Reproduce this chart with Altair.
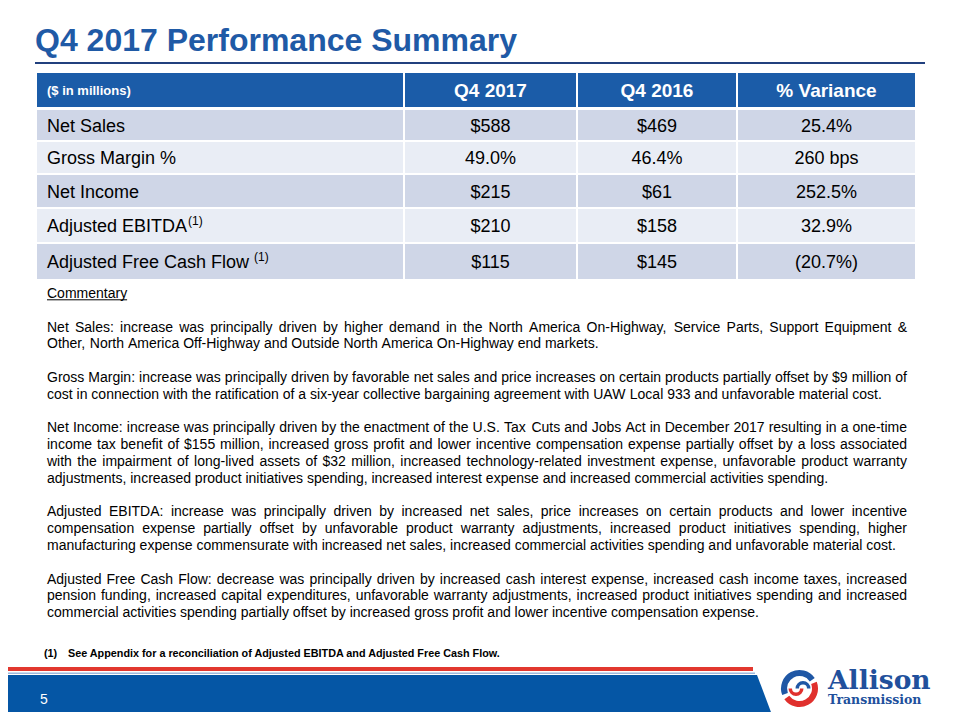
import altair as alt
import pandas as pd

# ---------------- data ----------------
title = "Q4 2017 Performance Summary"
headers = ["($ in millions)", "Q4 2017", "Q4 2016", "% Variance"]
metrics = ["Net Sales", "Gross Margin %", "Net Income", "Adjusted EBITDA", "Adjusted Free Cash Flow"]
metric_notes = ["", "", "", "(1)", "(1)"]
q4_2017 = ["$588", "49.0%", "$215", "$210", "$115"]
q4_2016 = ["$469", "46.4%", "$61", "$158", "$145"]
variance = ["25.4%", "260 bps", "252.5%", "32.9%", "(20.7%)"]

commentary_heading = "Commentary"
commentary = [
    ["Net Sales: increase was principally driven by higher demand in the North America On-Highway, Service Parts, Support Equipment &",
     "Other, North America Off-Highway and Outside North America On-Highway end markets."],
    ["Gross Margin: increase was principally driven by favorable net sales and price increases on certain products partially offset by $9 million of",
     "cost in connection with the ratification of a six-year collective bargaining agreement with UAW Local 933 and unfavorable material cost."],
    ["Net Income: increase was principally driven by the enactment of the U.S. Tax Cuts and Jobs Act in December 2017 resulting in a one-time",
     "income tax benefit of $155 million, increased gross profit and lower incentive compensation expense partially offset by a loss associated",
     "with the impairment of long-lived assets of $32 million, increased technology-related investment expense, unfavorable product warranty",
     "adjustments, increased product initiatives spending, increased interest expense and increased commercial activities spending."],
    ["Adjusted EBITDA: increase was principally driven by increased net sales, price increases on certain products and lower incentive",
     "compensation expense partially offset by unfavorable product warranty adjustments, increased product initiatives spending, higher",
     "manufacturing expense commensurate with increased net sales, increased commercial activities spending and unfavorable material cost."],
    ["Adjusted Free Cash Flow: decrease was principally driven by increased cash interest expense, increased cash income taxes, increased",
     "pension funding, increased capital expenditures, unfavorable warranty adjustments, increased product initiatives spending and increased",
     "commercial activities spending partially offset by increased gross profit and lower incentive compensation expense."],
]
footnote_mark = "(1)"
footnote = "See Appendix for a reconciliation of Adjusted EBITDA and Adjusted Free Cash Flow."
page_number = "5"
brand = "Allison"
brand_sub = "Transmission"

# ---------------- layout / style ----------------
W, H, OFF = 944, 704, 8
FONT = "Liberation Sans"
BLUE = "#1B5CA8"
TITLE_BLUE = "#1F5AA6"
ROW_DARK = "#CFD6E7"
ROW_LIGHT = "#E9EDF5"
col_left = [37, 405, 578, 738]
col_right = [403, 576, 736, 915]
header_top, header_bottom = 73, 107
row_top = [110, 142, 175, 209, 244]
row_bottom = [140, 173, 207, 242, 279]
TEXT_L, TEXT_R = 47, 907
BASE0, LH = 298, 16.8

# Arial/Helvetica advance widths (1/1000 em), used for text layout
_chars = " !\"#$%&'()*+,-./0123456789:;<=>?@ABCDEFGHIJKLMNOPQRSTUVWXYZ[\\]^_`abcdefghijklmnopqrstuvwxyz{|}~"
_widths = ([278, 278, 355, 556, 556, 889, 667, 191, 333, 333, 389, 584, 278, 333, 278, 278]
           + [556] * 10
           + [278, 278, 584, 584, 584, 556, 1015]
           + [667, 667, 722, 722, 667, 611, 778, 722, 278, 500, 667, 556, 833, 722, 778, 667, 778, 722, 667, 611, 722, 667, 944, 667, 667, 611]
           + [278, 278, 278, 469, 556, 333]
           + [556, 556, 500, 556, 556, 278, 556, 556, 222, 222, 500, 222, 833, 556, 556, 556, 556, 333, 500, 278, 556, 500, 722, 500, 500, 500]
           + [334, 260, 334, 584])
HELV = dict(zip(_chars, _widths))


def tw(s, size):
    return sum(HELV.get(c, 556) for c in s) * size / 1000.0


xs = alt.Scale(domain=[OFF, OFF + W], nice=False, zero=False)
ys = alt.Scale(domain=[OFF, OFF + H], nice=False, zero=False, reverse=True)


def X(f):
    return alt.X(f, type="quantitative", scale=xs, axis=None)


def Y(f):
    return alt.Y(f, type="quantitative", scale=ys, axis=None)


def rects(df, color):
    return alt.Chart(df).mark_rect(color=color).encode(
        x=X("x0"), x2="x1", y=Y("y0"), y2="y1")


def texts(df, **kw):
    opts = dict(font=FONT, baseline="alphabetic", align="left", color="#000000")
    opts.update(kw)
    return alt.Chart(df).mark_text(**opts).encode(x=X("x"), y=Y("y"), text="t:N")


layers = []

# title + rule
layers.append(texts(pd.DataFrame([{"x": 35, "y": 50.5, "t": title}]), fontSize=32, fontWeight="bold", color=TITLE_BLUE))
layers.append(rects(pd.DataFrame([{"x0": 35, "x1": 925, "y0": 62, "y1": 64}]), "#21407E"))

# table header cells
hdr = pd.DataFrame({"x0": col_left, "x1": col_right, "y0": [header_top] * 4, "y1": [header_bottom] * 4})
layers.append(rects(hdr, BLUE))
# table body cells
body_dark, body_light = [], []
for r in range(len(metrics)):
    for c in range(4):
        cell = {"x0": col_left[c], "x1": col_right[c], "y0": row_top[r], "y1": row_bottom[r]}
        (body_dark if r % 2 == 0 else body_light).append(cell)
layers.append(rects(pd.DataFrame(body_dark), ROW_DARK))
layers.append(rects(pd.DataFrame(body_light), ROW_LIGHT))

# header texts
hc = (header_top + header_bottom) / 2
layers.append(texts(pd.DataFrame([{"x": 47, "y": hc + 4.7, "t": headers[0]}]),
                    fontSize=13, fontWeight="bold", color="#FFFFFF"))
layers.append(texts(pd.DataFrame([{"x": (col_left[c] + col_right[c]) / 2, "y": hc + 6.8, "t": headers[c]} for c in range(1, 4)]),
                    fontSize=19, fontWeight="bold", color="#FFFFFF", align="center"))

# row labels + superscripts
lab, sup, vals = [], [], []
for r, name in enumerate(metrics):
    yb = (row_top[r] + row_bottom[r]) / 2 + 6.5
    lab.append({"x": 47, "y": yb, "t": name})
    if metric_notes[r]:
        gap = 1 if r == 3 else tw(" ", 18)
        sup.append({"x": 47 + tw(name, 18) + gap, "y": yb - 7, "t": metric_notes[r]})
    for c, col in zip(range(1, 4), [q4_2017, q4_2016, variance]):
        vals.append({"x": (col_left[c] + col_right[c]) / 2, "y": yb, "t": col[r]})
layers.append(texts(pd.DataFrame(lab), fontSize=18))
layers.append(texts(pd.DataFrame(sup), fontSize=12))
layers.append(texts(pd.DataFrame(vals), fontSize=18, align="center"))

# commentary heading with underline
layers.append(texts(pd.DataFrame([{"x": TEXT_L, "y": BASE0, "t": commentary_heading}]), fontSize=14))
layers.append(alt.Chart(pd.DataFrame([{"x0": TEXT_L, "x1": TEXT_L + tw(commentary_heading, 14), "y": BASE0 + 1.8}]))
              .mark_rule(color="#000000", strokeWidth=1).encode(x=X("x0"), x2="x1", y=Y("y")))

# justified commentary paragraphs (word by word)
words = []
line_idx = 2
for para in commentary:
    for k, line in enumerate(para):
        yb = BASE0 + line_idx * LH
        ws = line.split(" ")
        wd = [tw(w, 14) for w in ws]
        last = k == len(para) - 1
        gap = tw(" ", 14) if last else (TEXT_R - TEXT_L - sum(wd)) / (len(ws) - 1)
        x = TEXT_L
        for w, d in zip(ws, wd):
            words.append({"x": x, "y": yb, "t": w})
            x += d + gap
        line_idx += 1
    line_idx += 1
layers.append(texts(pd.DataFrame(words), fontSize=14))

# footnote
layers.append(texts(pd.DataFrame([{"x": 44, "y": 656.5, "t": footnote_mark},
                                   {"x": 68, "y": 656.5, "t": footnote}]),
                    fontSize=10.8, fontWeight="bold"))

# footer band
layers.append(rects(pd.DataFrame([{"x0": 0, "x1": 753, "y0": 667, "y1": 671}]), "#E2382F"))
layers.append(rects(pd.DataFrame([{"x0": 0, "x1": 755, "y0": 672.5, "y1": 674}]), "#9DB9DD"))
layers.append(alt.Chart(pd.DataFrame({"y": [675, 720], "x0": [0, 0], "x1": [757, 774]}))
              .mark_area(orient="horizontal", color="#0556A5").encode(y=Y("y"), x=X("x0"), x2="x1"))
layers.append(texts(pd.DataFrame([{"x": 40, "y": 704, "t": page_number}]), fontSize=14, color="#FFFFFF"))

# logo
ctr = pd.DataFrame([{"x": 799.5, "y": 688.5}])
layers.append(alt.Chart(ctr).mark_arc(theta=4.35, theta2=7.25, radius=18.5, radius2=12.5, color="#1F57A5")
              .encode(x=X("x"), y=Y("y")))
layers.append(alt.Chart(ctr).mark_arc(theta=1.2, theta2=4.1, radius=18.5, radius2=12.5, color="#E0302D")
              .encode(x=X("x"), y=Y("y")))
layers.append(alt.Chart(pd.DataFrame([{"x": 803, "y": 688.5}])).mark_arc(theta=4.71, theta2=7.85, radius=7.5, radius2=4, color="#1F57A5")
              .encode(x=X("x"), y=Y("y")))
layers.append(alt.Chart(pd.DataFrame([{"x": 796, "y": 688.5}])).mark_arc(theta=1.57, theta2=4.71, radius=7.5, radius2=4, color="#E0302D")
              .encode(x=X("x"), y=Y("y")))
layers.append(texts(pd.DataFrame([{"x": 828, "y": 688.5, "t": brand}]), font="DejaVu Serif", fontSize=26.5,
                    fontWeight="bold", color="#21509C"))
layers.append(texts(pd.DataFrame([{"x": 828, "y": 704, "t": brand_sub}]), font="DejaVu Serif", fontSize=12.5,
                    fontWeight="bold", color="#21509C"))

chart = alt.layer(*layers).properties(
    width=W, height=H, padding=0,
    autosize=alt.AutoSizeParams(type="none"),
    background="#FFFFFF",
).configure_view(stroke="transparent")

chart.save("out.html", embed_options={"renderer": "svg", "actions": False})
